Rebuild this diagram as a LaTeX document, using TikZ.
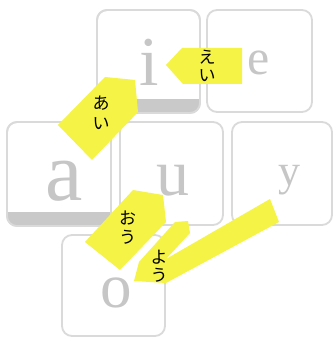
\documentclass[tikz,border=0pt]{standalone}
\usepackage{fontspec}
\newfontfamily\keyfont{Liberation Serif}
\newfontfamily\jpfont{Noto Sans CJK JP}
\definecolor{keyline}{HTML}{DADADA}
\definecolor{keybar}{HTML}{C9C9C9}
\definecolor{keyletter}{HTML}{C6C6C6}
\definecolor{tagyellow}{HTML}{F5F346}
\tikzset{
  keybox/.style={draw=keyline, line width=1.8pt, rounded corners=10pt, fill=white, inner sep=0pt},
  keychar/.style={text=keyletter, inner sep=0pt, anchor=base},
  tag/.style={fill=tagyellow},
  jp/.style={text=black, inner sep=0pt, align=center},
}
\newcommand{\keysize}[1]{\keyfont\fontsize{#1}{#1}\selectfont}
\newcommand{\jpsize}[1]{\jpfont\fontsize{17}{#1}\selectfont}
\begin{document}
\begin{tikzpicture}[x=1pt,y=-1pt]
\useasboundingbox (0,0) rectangle (333,339);
% keys
\node[keybox, minimum width=103pt, minimum height=103pt] (ki) at (148.5,61.5) {};
\node[keybox, minimum width=105pt, minimum height=102pt] (ke) at (259.5,61) {};
\node[keybox, minimum width=104pt, minimum height=104pt] (ka) at (59,174) {};
\node[keybox, minimum width=103pt, minimum height=103pt] (ku) at (171.5,173.5) {};
\node[keybox, minimum width=100pt, minimum height=103pt] (ky) at (282,173.5) {};
\node[keybox, minimum width=103pt, minimum height=101pt] (ko) at (113.5,285.5) {};
% gray bottom bars of i and a
\begin{scope}
  \clip (97,100) rectangle (200,115);
  \fill[keybar, rounded corners=10pt] (97,10) rectangle (200,113);
\end{scope}
\begin{scope}
  \clip (7,212) rectangle (111,228);
  \fill[keybar, rounded corners=10pt] (7,122) rectangle (111,226);
\end{scope}
\node[keybox, fill=none, minimum width=103pt, minimum height=103pt] at (ki.center) {};
\node[keybox, fill=none, minimum width=104pt, minimum height=104pt] at (ka.center) {};
% letters
\node[keychar, font=\keysize{70}] (li) at (149,86) {i};
\node[keychar, font=\keysize{50}] (le) at (259,75) {e};
\node[keychar, font=\keysize{84}] (la) at (64,200) {a};
\node[keychar, font=\keysize{66}] (lu) at (173,195) {u};
\node[keychar, font=\keysize{44}] (ly) at (289,185) {y};
\node[keychar, font=\keysize{63}] (lo) at (116,307) {o};
% yellow tags
\fill[tag] (166,65) -- (182,48) -- (242,48) -- (242,84) -- (183,84) -- cycle;
\fill[tag] (105,77) -- (135,80) -- (138,112) -- (92,160) -- (58,125) -- cycle;
\fill[tag] (133,190) -- (163,195) -- (166,222) -- (120,270) -- (85,242) -- cycle;
\fill[tag] (175,222) -- (188,221) -- (190,233) -- (166,259) -- (270,199) -- (279,222)
  -- (166,283) -- (134,281) -- (139,262) -- cycle;
% tag texts
\node[jp, font=\jpsize{18}] (tei) at (207,66) {え\\い};
\node[jp, font=\jpsize{20}] (tai) at (101,113) {あ\\い};
\node[jp, font=\jpsize{19}] (tou) at (127.5,227.5) {お\\う};
\node[jp, font=\jpsize{18}] (tyou) at (159,266.5) {よ\\う};
\end{tikzpicture}
\end{document}
